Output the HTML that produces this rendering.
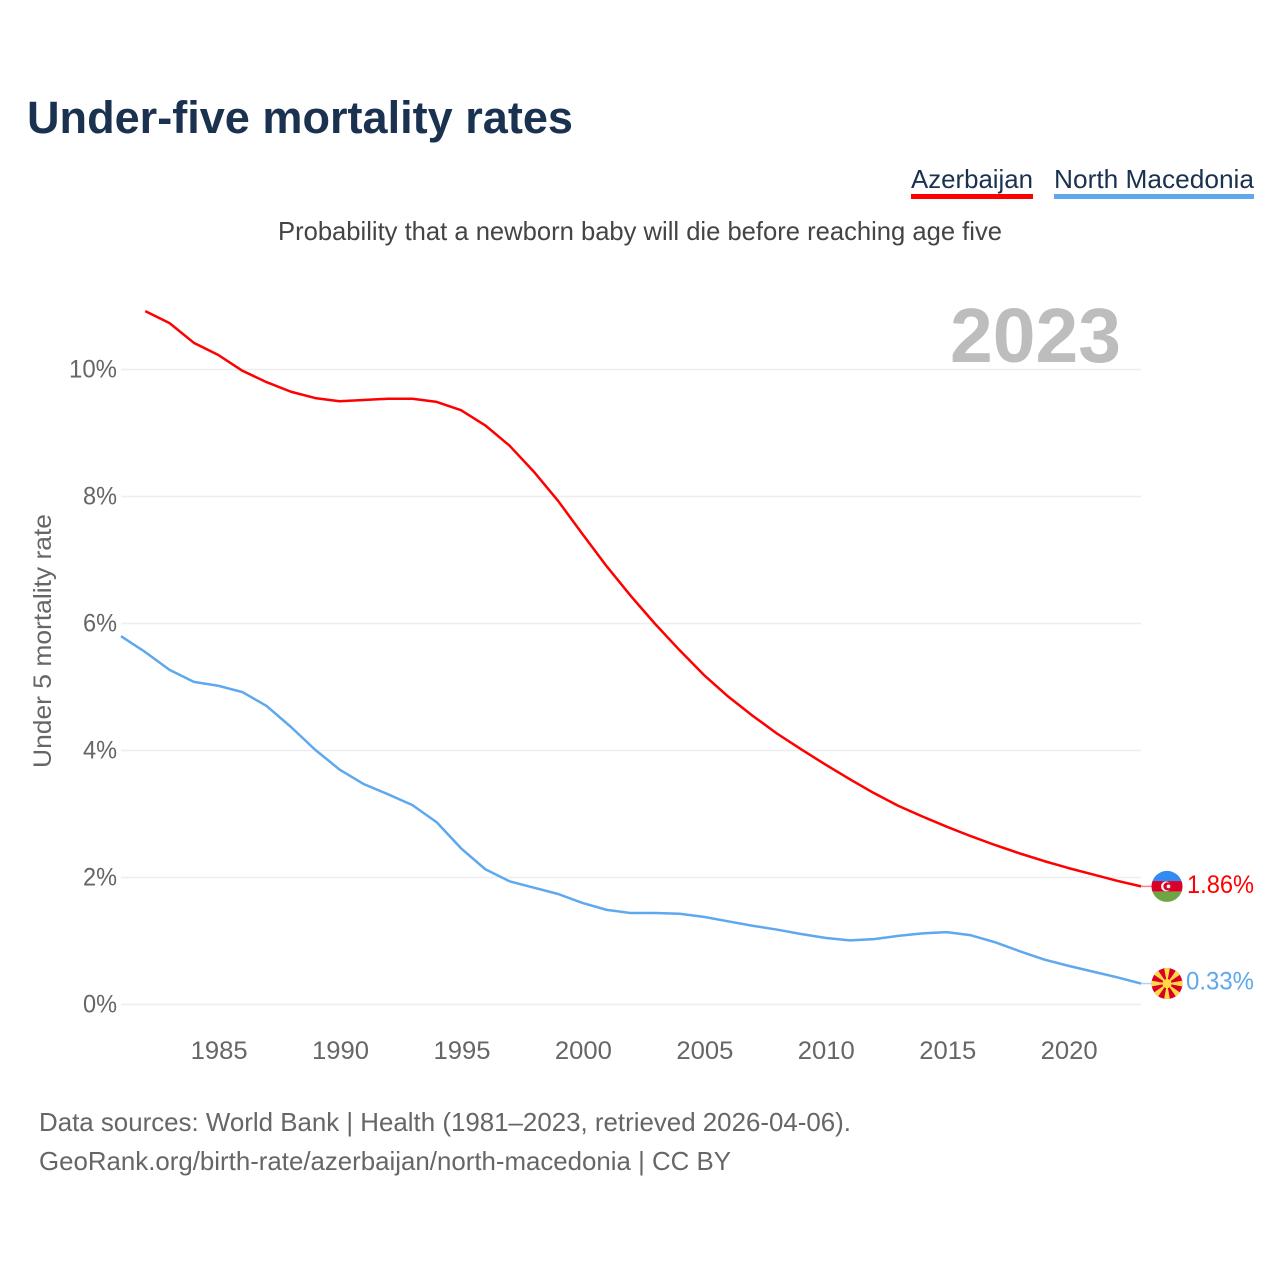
<!DOCTYPE html>
<html lang="en">
<head>
<meta charset="utf-8">
<title>Under-five mortality rates</title>
<style>
html,body{margin:0;padding:0;background:#fff;}
svg{display:block;font-family:"Liberation Sans",sans-serif;}
</style>
</head>
<body>
<svg id="chart" width="1280" height="1280" viewBox="0 0 1280 1280" xmlns="http://www.w3.org/2000/svg">
  <defs>
    <clipPath id="flag-clip"><circle cx="0" cy="0" r="15.5"/></clipPath>
  </defs>
  <rect x="0" y="0" width="1280" height="1280" fill="#ffffff"/>
  <text x="27" y="133" font-size="45" font-weight="700" fill="#1a3150" textLength="546" lengthAdjust="spacingAndGlyphs">Under-five mortality rates</text>

  <g>
    <text x="911" y="188" font-size="26" fill="#1a3150" textLength="122" lengthAdjust="spacingAndGlyphs">Azerbaijan</text>
    <rect x="911" y="194" width="122" height="5" fill="#ff0000"/>
  </g>
  <g>
    <text x="1054" y="188" font-size="26" fill="#1a3150" textLength="200" lengthAdjust="spacingAndGlyphs">North Macedonia</text>
    <rect x="1054" y="194" width="200" height="5" fill="#5ea8ee"/>
  </g>

  <text x="278" y="240" font-size="26" fill="#444444" textLength="724" lengthAdjust="spacingAndGlyphs">Probability that a newborn baby will die before reaching age five</text>

  <g id="grid"></g>
  <g id="y-axis"></g>
  <g id="x-axis"></g>

  <text x="950" y="362" font-size="77" font-weight="700" fill="#bdbdbd" textLength="171" lengthAdjust="spacingAndGlyphs">2023</text>

  <text transform="translate(51 768) rotate(-90)" x="0" y="0" font-size="25" fill="#666666" textLength="254" lengthAdjust="spacingAndGlyphs">Under 5 mortality rate</text>

  <g id="series"></g>

  <g id="end-azerbaijan">
    <g clip-path="url(#flag-clip)">
      <rect x="-16" y="-16" width="32" height="11" fill="#338af3"/>
      <rect x="-16" y="-5.3" width="32" height="10.6" fill="#d80027"/>
      <rect x="-16" y="5.3" width="32" height="11" fill="#6da544"/>
      <circle cx="-1" cy="0" r="5" fill="#f0f0f0"/>
      <circle cx="0.4" cy="0" r="4" fill="#d80027"/>
      <circle cx="1.5" cy="0" r="1.9" fill="#f0f0f0"/>
    </g>
  </g>
  <g id="end-macedonia">
    <g clip-path="url(#flag-clip)">
      <rect x="-16" y="-16" width="32" height="32" fill="#d80027"/>
      <polygon points="-3,-16 3,-16 0,0" fill="#ffda44"/>
      <polygon points="-3,16 3,16 0,0" fill="#ffda44"/>
      <polygon points="-16,-3 -16,3 0,0" fill="#ffda44"/>
      <polygon points="16,-3 16,3 0,0" fill="#ffda44"/>
      <polygon points="-13.4,-9.2 -9.2,-13.4 0,0" fill="#ffda44"/>
      <polygon points="13.4,-9.2 9.2,-13.4 0,0" fill="#ffda44"/>
      <polygon points="-13.4,9.2 -9.2,13.4 0,0" fill="#ffda44"/>
      <polygon points="13.4,9.2 9.2,13.4 0,0" fill="#ffda44"/>
      <circle cx="0" cy="0" r="4.6" fill="#ffda44"/>
    </g>
  </g>

  <text x="39" y="1131" font-size="26" fill="#666666" textLength="812" lengthAdjust="spacingAndGlyphs">Data sources: World Bank | Health (1981–2023, retrieved 2026-04-06).</text>
  <text x="39" y="1170" font-size="26" fill="#666666" textLength="692" lengthAdjust="spacingAndGlyphs">GeoRank.org/birth-rate/azerbaijan/north-macedonia | CC BY</text>
</svg>
<script>
var yTicks = [0, 2, 4, 6, 8, 10];
var xTicks = [1985, 1990, 1995, 2000, 2005, 2010, 2015, 2020];
var azerbaijanYears = [1982,1983,1984,1985,1986,1987,1988,1989,1990,1991,1992,1993,1994,1995,1996,1997,1998,1999,2000,2001,2002,2003,2004,2005,2006,2007,2008,2009,2010,2011,2012,2013,2014,2015,2016,2017,2018,2019,2020,2021,2022,2023];
var azerbaijanValues = [10.92,10.73,10.42,10.23,9.98,9.80,9.65,9.55,9.50,9.52,9.54,9.54,9.49,9.36,9.12,8.80,8.39,7.93,7.41,6.90,6.43,5.99,5.58,5.19,4.85,4.55,4.27,4.02,3.78,3.55,3.33,3.13,2.96,2.80,2.65,2.51,2.38,2.26,2.15,2.05,1.95,1.86];
var macedoniaYears = [1981,1982,1983,1984,1985,1986,1987,1988,1989,1990,1991,1992,1993,1994,1995,1996,1997,1998,1999,2000,2001,2002,2003,2004,2005,2006,2007,2008,2009,2010,2011,2012,2013,2014,2015,2016,2017,2018,2019,2020,2021,2022,2023];
var macedoniaValues = [5.80,5.55,5.27,5.08,5.02,4.92,4.70,4.37,4.01,3.70,3.47,3.31,3.14,2.87,2.46,2.13,1.94,1.84,1.74,1.60,1.49,1.44,1.44,1.43,1.38,1.31,1.24,1.18,1.11,1.05,1.01,1.03,1.08,1.12,1.14,1.09,0.98,0.84,0.71,0.61,0.52,0.43,0.33];
var azerbaijanEndLabel = "1.86%";
var macedoniaEndLabel = "0.33%";

var NS = "http://www.w3.org/2000/svg";
var X0 = 121, X1 = 1141, Y0 = 1004.5, Y10 = 369.5;
function xScale(year) { return X0 + (year - 1981) * (X1 - X0) / (2023 - 1981); }
function yScale(value) { return Y0 + value * (Y10 - Y0) / 10; }
function make(tag, attrs, parent) {
  var el = document.createElementNS(NS, tag);
  for (var k in attrs) { el.setAttribute(k, attrs[k]); }
  parent.appendChild(el);
  return el;
}

var grid = document.getElementById("grid");
var yAxis = document.getElementById("y-axis");
var xAxis = document.getElementById("x-axis");
var series = document.getElementById("series");
var svg = document.getElementById("chart");

yTicks.forEach(function (t) {
  var line = make("line", {x1: X0, x2: X1, y1: yScale(t), y2: yScale(t), stroke: "#eeeeee", "stroke-width": 1.5}, grid);
  
  
  var label = make("text", {x: 117, y: yScale(t) + 8, "font-size": 25, fill: "#666666", "text-anchor": "end", textLength: t >= 10 ? 48 : 34, lengthAdjust: "spacingAndGlyphs"}, yAxis);
  
  
  label.textContent = t + "%";
});

xTicks.forEach(function (t) {
  var label = make("text", {x: xScale(t) + 1, y: 1059, "font-size": 25, fill: "#666666", "text-anchor": "middle", textLength: 57, lengthAdjust: "spacingAndGlyphs"}, xAxis);
  
  
  label.textContent = t;
});

function linePath(years, values) {
  return years.map(function (yr, i) {
    return (i ? "L" : "M") + xScale(yr).toFixed(2) + " " + yScale(values[i]).toFixed(2);
  }).join(" ");
}

var redLine = make("path", {d: linePath(azerbaijanYears, azerbaijanValues), fill: "none", stroke: "#ff0000", "stroke-width": 2.5, "stroke-linejoin": "round"}, series);



var blueLine = make("path", {d: linePath(macedoniaYears, macedoniaValues), fill: "none", stroke: "#5ea8ee", "stroke-width": 2.5, "stroke-linejoin": "round"}, series);



var redEndY = yScale(azerbaijanValues[azerbaijanValues.length - 1]);
var blueEndY = yScale(macedoniaValues[macedoniaValues.length - 1]);

var redStub = make("line", {x1: X1, x2: 1152, y1: redEndY, y2: redEndY, stroke: "#ff0000", "stroke-width": 1.5, opacity: 0.5}, series);



var blueStub = make("line", {x1: X1, x2: 1152, y1: blueEndY, y2: blueEndY, stroke: "#5ea8ee", "stroke-width": 1.5, opacity: 0.5}, series);



document.getElementById("end-azerbaijan").setAttribute("transform", "translate(1167 " + redEndY + ")");
document.getElementById("end-macedonia").setAttribute("transform", "translate(1167 " + blueEndY + ")");

var redValue = make("text", {x: 1187, y: redEndY + 6.5, "font-size": 25, fill: "#ff0000", textLength: 67, lengthAdjust: "spacingAndGlyphs"}, svg);


redValue.textContent = azerbaijanEndLabel;

var blueValue = make("text", {x: 1186, y: blueEndY + 6, "font-size": 25, fill: "#5ea8ee", textLength: 68, lengthAdjust: "spacingAndGlyphs"}, svg);


blueValue.textContent = macedoniaEndLabel;
</script>
</body>
</html>
